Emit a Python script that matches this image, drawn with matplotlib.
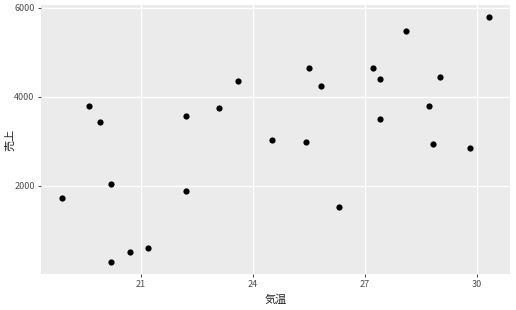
import matplotlib.pyplot as plt

plt.rcParams['font.family'] = ['Noto Sans CJK JP', 'DejaVu Sans']

# 気温 vs 売上
temp = [18.90, 19.61, 19.90, 20.20, 20.21, 20.71, 21.20, 22.20, 22.20, 23.10,
        23.61, 24.51, 25.41, 25.51, 25.81, 26.31, 27.21, 27.41, 27.41, 28.11,
        28.71, 28.81, 29.00, 29.80, 30.31]
sales = [1712, 3791, 3430, 2041, 284, 502, 599, 3565, 1887, 3752,
         4360, 3032, 2980, 4646, 4248, 1523, 4640, 4392, 3491, 5480,
         3784, 2928, 4444, 2851, 5788]
x_ticks = [21, 24, 27, 30]
y_ticks = [2000, 4000, 6000]

fig = plt.figure(figsize=(5.16, 3.10), dpi=100)
ax = fig.add_axes([41 / 516, 1 - 274 / 310, 469 / 516, 269 / 310])
ax.set_facecolor('#ebebeb')

ax.scatter(temp, sales, s=20, color='black', zorder=3, linewidths=0)

# ggplot-style 5% expansion
xr = max(temp) - min(temp)
yr = max(sales) - min(sales)
ax.set_xlim(min(temp) - 0.05 * xr, max(temp) + 0.05 * xr)
ax.set_ylim(min(sales) - 0.05 * yr, max(sales) + 0.05 * yr)

ax.set_xticks(x_ticks)
ax.set_yticks(y_ticks)
ax.grid(True, color='white', linewidth=1.0)
ax.set_axisbelow(True)
for s in ax.spines.values():
    s.set_visible(False)
ax.tick_params(length=2.5, width=0.8, color='#4d4d4d', labelcolor='#4d4d4d',
               labelsize=6.5, pad=2)

ax.set_xlabel('気温', fontsize=8, color='#222222', labelpad=4)
ax.set_ylabel('売上', fontsize=8, color='#222222')
ax.yaxis.set_label_coords(-0.054, 0.5)

fig.savefig('out.png', dpi=100)
